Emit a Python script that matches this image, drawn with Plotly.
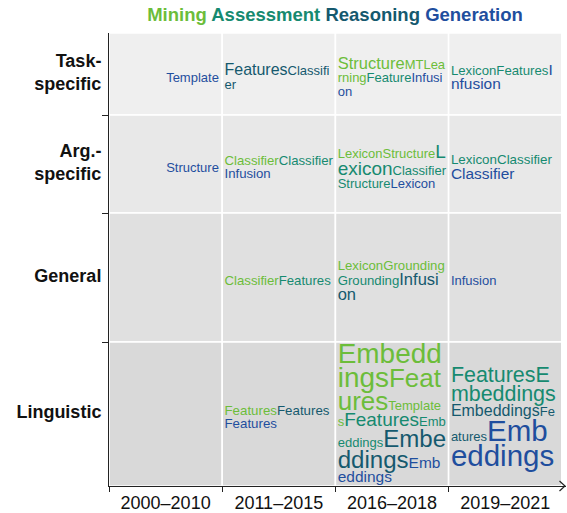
import plotly.graph_objects as go

# ---------------- data ----------------
row_names = ["Task-specific", "Arg.-specific", "General", "Linguistic"]
row_tick_text = ["<b>Task-</b><br><b>specific</b>", "<b>Arg.-</b><br><b>specific</b>", "<b>General</b>", "<b>Linguistic</b>"]
periods = ["2000–2010", "2011–2015", "2016–2018", "2019–2021"]
task_names = ["Mining", "Assessment", "Reasoning", "Generation"]

# one entry per word occurrence (in reading order inside each cell)
word_row = (["Task-specific"] * 10 + ["Arg.-specific"] * 13 + ["General"] * 7 + ["Linguistic"] * 15)
word_period = [
    "2000–2010", "2011–2015", "2011–2015", "2016–2018", "2016–2018", "2016–2018", "2016–2018",
    "2019–2021", "2019–2021", "2019–2021",
    "2000–2010", "2011–2015", "2011–2015", "2011–2015", "2016–2018", "2016–2018", "2016–2018",
    "2016–2018", "2016–2018", "2016–2018", "2019–2021", "2019–2021", "2019–2021",
    "2011–2015", "2011–2015", "2016–2018", "2016–2018", "2016–2018", "2016–2018", "2019–2021",
    "2011–2015", "2011–2015", "2011–2015", "2016–2018", "2016–2018", "2016–2018", "2016–2018",
    "2016–2018", "2016–2018", "2016–2018", "2019–2021", "2019–2021", "2019–2021", "2019–2021",
    "2019–2021",
]
word_text = [
    "Template", "Features", "Classifier", "Structure", "MTLearning", "Feature", "Infusion",
    "Lexicon", "Features", "Infusion",
    "Structure", "Classifier", "Classifier", "Infusion", "Lexicon", "Structure", "Lexicon",
    "Classifier", "Structure", "Lexicon", "Lexicon", "Classifier", "Classifier",
    "Classifier", "Features", "Lexicon", "Grounding", "Grounding", "Infusion", "Infusion",
    "Features", "Features", "Features", "Embeddings", "Features", "Templates", "Features",
    "Embeddings", "Embeddings", "Embeddings", "Features", "Embeddings", "Embeddings", "Features",
    "Embeddings",
]
word_task = [
    "Generation", "Reasoning", "Reasoning", "Mining", "Mining", "Assessment", "Generation",
    "Assessment", "Assessment", "Generation",
    "Generation", "Mining", "Assessment", "Generation", "Mining", "Mining", "Assessment",
    "Assessment", "Assessment", "Generation", "Assessment", "Assessment", "Generation",
    "Mining", "Assessment", "Mining", "Mining", "Assessment", "Reasoning", "Generation",
    "Mining", "Reasoning", "Generation", "Mining", "Mining", "Mining", "Assessment",
    "Assessment", "Reasoning", "Generation", "Assessment", "Assessment", "Reasoning", "Reasoning",
    "Generation",
]
# relative prominence of each word (1 = smallest)
word_weight = [
    1.0, 1.23, 1.0, 1.27, 1.0, 1.0, 1.0,
    1.015, 1.015, 1.19,
    1.0, 1.015, 1.015, 1.015, 1.0, 1.0, 1.46,
    1.0, 1.0, 1.0, 1.03, 1.03, 1.19,
    1.015, 1.015, 1.015, 1.015, 1.015, 1.27, 1.0,
    1.023, 1.023, 1.023, 2.15, 2.0, 1.0, 1.46,
    1.0, 1.85, 1.19, 1.65, 1.65, 1.23, 1.0,
    2.27,
]

# ---------------- styles / layout constants ----------------
FIG_W, FIG_H = 567, 513
M_L, M_R, M_T, M_B = 109, 1, 33, 27
PLOT_W = FIG_W - M_L - M_R
PLOT_H = FIG_H - M_T - M_B
COL_W = 113.2
ROW_H = [82, 98, 129, 144]
ROW_FILL = ["#efefef", "#e8e8e8", "#e0e0e0", "#d9d9d9"]
TASK_COLOR = {"Mining": "#6cbd3a", "Assessment": "#168a70", "Reasoning": "#15596e", "Generation": "#1f4e9e"}
BASE_PX = 13.0
FONT = "Liberation Sans, Arial, sans-serif"
TEXT_W = 109.5
PAD = 2.3
STRUT_PX, STRUT_LH = 13.0, 1.04  # block strut
SPAN_LH = 0.85                   # line-height of the word spans
V_OFF = 3.0
BOTTOM_KEEP = 1.5
POINT_FS = 10

CHAR_W = {'A': 667, 'C': 722, 'E': 667, 'F': 611, 'G': 778, 'I': 278, 'L': 556, 'M': 833,
          'S': 667, 'T': 611, 'a': 556, 'b': 556, 'c': 500, 'd': 556, 'e': 556, 'f': 278,
          'g': 556, 'i': 222, 'l': 222, 'm': 833, 'n': 556, 'o': 556, 'p': 556, 'r': 333,
          's': 500, 't': 278, 'u': 556, 'x': 500, 'h': 556, 'k': 500, 'v': 500, 'y': 500}

row_top = [sum(ROW_H[:i]) for i in range(len(ROW_H))]


def flow(words):
    lines = [[]]
    x = 0.0
    for text, size, color in words:
        for ch in text:
            w = CHAR_W.get(ch, 556) * size / 1000.0
            if x + w > TEXT_W and x > 0:
                lines.append([])
                x = 0.0
            line = lines[-1]
            if line and line[-1][1] == size and line[-1][2] == color:
                line[-1][0] += ch
            else:
                line.append([ch, size, color])
            x += w
    return lines


def above_below(size, lh):
    h = (lh - 1.117) / 2
    return size * (0.905 + h), size * (0.212 + h)


strut_a, strut_b = above_below(STRUT_PX, STRUT_LH)

tx, ty, ttext, tpos = [], [], [], []
for ri, rname in enumerate(row_names):
    for ci, per in enumerate(periods):
        words = [(word_text[k], BASE_PX * word_weight[k], TASK_COLOR[word_task[k]])
                 for k in range(len(word_text)) if word_row[k] == rname and word_period[k] == per]
        if not words:
            continue
        lines = flow(words)
        metrics = []
        for ln in lines:
            a = max([strut_a] + [above_below(seg[1], SPAN_LH)[0] for seg in ln])
            b = max([strut_b] + [above_below(seg[1], SPAN_LH)[1] for seg in ln])
            metrics.append((a, b))
        H = sum(a + b for a, b in metrics)
        top = row_top[ri] + (ROW_H[ri] - H) / 2 + V_OFF
        top = min(top, row_top[ri] + ROW_H[ri] - H - BOTTOM_KEEP)
        for ln, (a, b) in zip(lines, metrics):
            base = top + a
            top = base + b
            s = "".join('<span style="font-size:%.2fpx;color:%s">%s</span>' % (sz, col, t)
                        for t, sz, col in ln)
            if ci == 0:
                tx.append((ci + 1) * COL_W - PAD - 1.0)
                tpos.append("middle left")
            else:
                tx.append(ci * COL_W + PAD)
                tpos.append("middle right")
            ty.append(base - 0.25 * POINT_FS)
            ttext.append(s)

fig = go.Figure()
fig.add_trace(go.Scatter(x=tx, y=ty, mode="text", text=ttext, textposition=tpos,
                         textfont=dict(family=FONT, size=POINT_FS, color="#000"),
                         hoverinfo="skip", showlegend=False, cliponaxis=False))

shapes = []
for ri in range(len(row_names)):
    for ci in range(len(periods)):
        shapes.append(dict(type="rect", xref="x", yref="y", x0=ci * COL_W, x1=(ci + 1) * COL_W,
                           y0=row_top[ri], y1=row_top[ri] + ROW_H[ri], fillcolor=ROW_FILL[ri],
                           line=dict(color="white", width=1.6), layer="below"))


def px2paper(px, py):
    return ((px - M_L) / PLOT_W, (M_T + PLOT_H - py) / PLOT_H)


tip = px2paper(565, 486)
a1 = px2paper(559.5, 481)
a2 = px2paper(559.5, 491)
shapes.append(dict(type="path", xref="paper", yref="paper",
                   path="M %f,%f L %f,%f L %f,%f" % (a1[0], a1[1], tip[0], tip[1], a2[0], a2[1]),
                   line=dict(color="#222", width=1.2)))

title_txt = " ".join('<span style="color:%s">%s</span>' % (TASK_COLOR[t], t) for t in task_names)

fig.update_layout(
    width=FIG_W, height=FIG_H,
    margin=dict(l=M_L, r=M_R, t=M_T, b=M_B, autoexpand=False),
    paper_bgcolor="white", plot_bgcolor="white",
    shapes=shapes,
    title=dict(text="<b>" + title_txt + "</b>", x=(335 - M_L) / PLOT_W, xref="paper", xanchor="center",
               y=1 - 15 / FIG_H, yref="container", yanchor="middle", automargin=False,
               font=dict(family=FONT, size=18.5)),
    xaxis=dict(range=[0, PLOT_W], showgrid=False, zeroline=False, showline=True, automargin=False,
               linecolor="#222", linewidth=1, tickmode="array",
               tickvals=[(i + 0.5) * COL_W for i in range(len(periods))], ticktext=periods,
               ticks="", tickfont=dict(family=FONT, size=18, color="#111"),
               minor=dict(tickmode="array", tickvals=[i * COL_W for i in range(len(periods))],
                          ticks="outside", ticklen=5, tickcolor="#222", tickwidth=1, showgrid=False),
               fixedrange=True),
    yaxis=dict(range=[PLOT_H, 0], showgrid=False, zeroline=False, showline=True, automargin=False,
               linecolor="#222", linewidth=1, tickmode="array",
               tickvals=[row_top[i] + ROW_H[i] / 2 - 2 for i in range(len(row_names))],
               ticktext=row_tick_text, ticks="", ticklabelstandoff=3,
               tickfont=dict(family=FONT, size=18, color="#111"),
               minor=dict(tickmode="array", tickvals=row_top[1:],
                          ticks="outside", ticklen=6, tickcolor="#222", tickwidth=1, showgrid=False),
               fixedrange=True),
)

fig.write_html("out.html", config={"displayModeBar": False},
               post_script="document.body.style.margin='0px';")
